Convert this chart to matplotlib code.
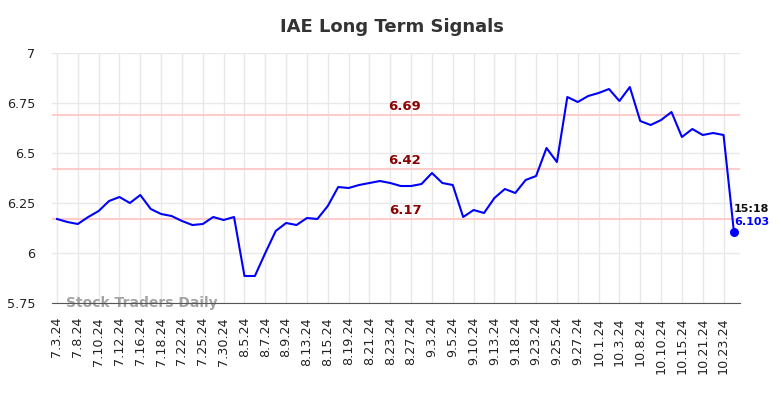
import numpy as np
import matplotlib
matplotlib.use("Agg")
import matplotlib.pyplot as plt

# closing prices, one per trading session (every other one is labelled)
prices = [
    6.17, 6.155, 6.145, 6.18, 6.21, 6.26, 6.28, 6.25, 6.29, 6.22,
    6.195, 6.185, 6.16, 6.14, 6.145, 6.18, 6.165, 6.18, 5.885, 5.885,
    6.0, 6.11, 6.15, 6.14, 6.175, 6.17, 6.235, 6.33, 6.325, 6.34,
    6.35, 6.36, 6.35, 6.335, 6.335, 6.345, 6.4, 6.35, 6.34, 6.18,
    6.215, 6.2, 6.275, 6.32, 6.3, 6.365, 6.385, 6.525, 6.455, 6.78,
    6.755, 6.785, 6.8, 6.82, 6.76, 6.83, 6.66, 6.64, 6.665, 6.705,
    6.58, 6.62, 6.59, 6.6, 6.59, 6.103,
]
tick_labels = [
    "7.3.24", "7.8.24", "7.10.24", "7.12.24", "7.16.24", "7.18.24", "7.22.24",
    "7.25.24", "7.30.24", "8.5.24", "8.7.24", "8.9.24", "8.13.24", "8.15.24",
    "8.19.24", "8.21.24", "8.23.24", "8.27.24", "9.3.24", "9.5.24", "9.10.24",
    "9.13.24", "9.18.24", "9.23.24", "9.25.24", "9.27.24", "10.1.24", "10.3.24",
    "10.8.24", "10.10.24", "10.15.24", "10.21.24", "10.23.24",
]
signal_levels = [6.69, 6.42, 6.17]
last_time = "15:18"

x = np.arange(len(prices))

fig = plt.figure(figsize=(7.84, 3.98), dpi=100)
ax = fig.add_axes([0.0663, 0.2387, 0.8776, 0.6281])

ax.set_xlim(-0.48, len(prices) - 1 + 0.58)
ax.set_ylim(5.75, 7)
ax.set_yticks([5.75, 6, 6.25, 6.5, 6.75, 7])
ax.set_yticklabels(["5.75", "6", "6.25", "6.5", "6.75", "7"])
ax.set_xticks(x[::2])
ax.set_xticklabels(tick_labels, rotation=90)
ax.tick_params(axis="both", length=0, labelsize=9.2, colors="#222222")
ax.tick_params(axis="y", pad=12)
ax.tick_params(axis="x", pad=10)

ax.grid(True, color="#e8e8e8", linewidth=1)
ax.set_axisbelow(True)
for s in ("top", "right", "left"):
    ax.spines[s].set_visible(False)
ax.spines["bottom"].set_color("#555555")
ax.spines["bottom"].set_zorder(5)

mid = (len(prices) - 1) * 0.514
for lv in signal_levels:
    ax.axhline(lv, color="#ffcccc", linewidth=1.5, zorder=1)
    ax.text(mid, lv + 0.012, f"{lv:.2f}", color="#8b0000", fontsize=9.5,
            fontweight="bold", ha="center", va="bottom")

ax.plot(x, prices, color="#0000ff", linewidth=1.5, zorder=3)
ax.scatter([x[-1]], [prices[-1]], color="#0000ff", s=30, zorder=4)
ax.text(x[-1], prices[-1] + 0.117, last_time, fontsize=8, fontweight="bold",
        color="#111111", ha="left", va="center")
ax.text(x[-1], prices[-1] + 0.052, f"{prices[-1]:.3f}", fontsize=8,
        fontweight="bold", color="#0000ff", ha="left", va="center")

ax.text(0.9, 5.75, "Stock Traders Daily", fontsize=10, fontweight="bold",
        color="#999999", alpha=0.9, ha="left", va="center")

fig.suptitle("IAE Long Term Signals", fontsize=13, fontweight="bold",
             color="#333333", y=0.955)

fig.savefig("out.png", dpi=100)
